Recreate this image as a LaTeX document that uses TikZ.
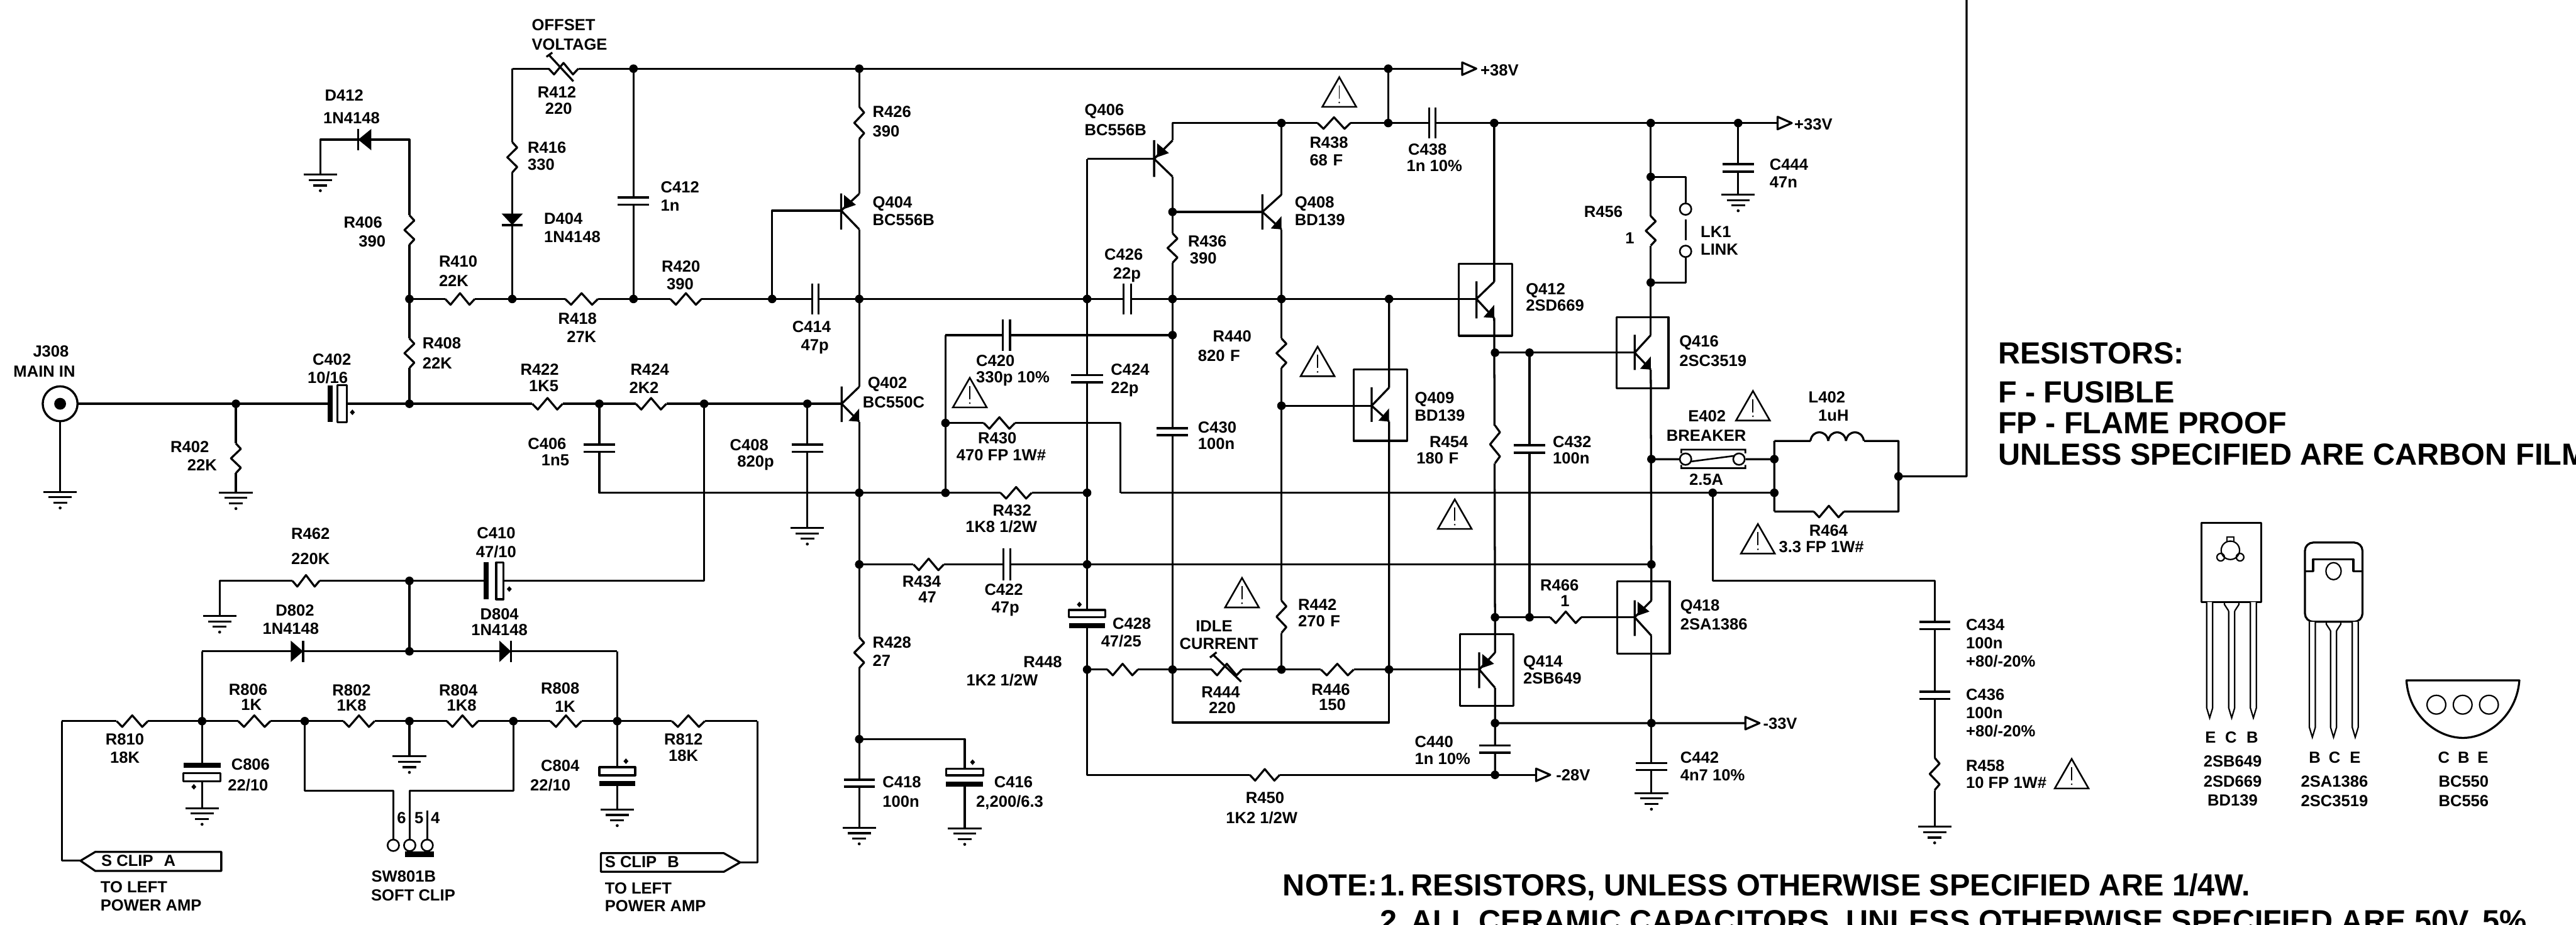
\documentclass[tikz,border=0pt]{standalone}
\usepackage{fontspec}
\newfontfamily\hv{Liberation Sans}
\newcommand\lb{\hv\bfseries\fontsize{9.8}{11}\selectfont}
\newcommand\bg{\hv\bfseries\fontsize{18.6}{20}\selectfont}
\tikzset{
 w/.style={line width=1.25pt,line join=round},
 th/.style={line width=.85pt},
 lab/.style={anchor=base,inner sep=0pt,yshift=-3.4pt,font=\lb},
 labl/.style={anchor=base west,inner sep=0pt,yshift=-3.4pt,font=\lb},
 big/.style={anchor=base west,inner sep=0pt,yshift=-6.6pt,font=\bg},
 pad/.style={circle,draw,line width=1pt,fill=white,inner sep=0pt,minimum size=7pt},
}
\newcount\lc
\newcommand\T[3]{\global\advance\lc by 1 \node[lab] (t\the\lc) at (#1,#2) {#3};}
\newcommand\TL[3]{\global\advance\lc by 1 \node[labl] (t\the\lc) at (#1,#2) {#3};}
\newcommand\TB[3]{\global\advance\lc by 1 \node[big] (t\the\lc) at (#1,#2) {#3};}
\newcommand\Rh[3]{\fill[white] (#1,{#3-1.2}) rectangle (#2,{#3+1.2});
 \draw[w] (#1,#3) -- ++({.18*(#2-#1)},3.5) -- ++({.32*(#2-#1)},-7) -- ++({.32*(#2-#1)},7) -- ++({.18*(#2-#1)},-3.5);}
\newcommand\Rv[3]{\fill[white] ({#1-1.2},#2) rectangle ({#1+1.2},#3);
 \draw[w] (#1,#2) -- ++(3,{.18*(#3-#2)}) -- ++(-6,{.32*(#3-#2)}) -- ++(6,{.32*(#3-#2)}) -- ++(-3,{.18*(#3-#2)});}
\newcommand\Cv[4]{\fill[white] ({#1-1.5},#2) rectangle ({#1+1.5},#3);
 \draw[w,line width=1.4pt] ({#1-#4},#2) -- ({#1+#4},#2) ({#1-#4},#3) -- ({#1+#4},#3);}
\newcommand\Ch[4]{\fill[white] (#1,{#3-1.5}) rectangle (#2,{#3+1.5});
 \draw[w] (#1,{#3-#4}) -- (#1,{#3+#4}) (#2,{#3-#4}) -- (#2,{#3+#4});}
\newcommand\PCh[6]{\fill[white] (#1,{#5-1.5}) rectangle (#4,{#5+1.5});
 \fill (#1,{#5-#6}) rectangle (#2,{#5+#6});
 \draw[w] (#3,{#5-#6}) rectangle (#4,{#5+#6});}
\newcommand\PCv[6]{\fill[white] ({#1-1.5},#2) rectangle ({#1+1.5},#5);
 \fill ({#1-#6},#2) rectangle ({#1+#6},#3);
 \draw[w] ({#1-#6},#4) rectangle ({#1+#6},#5);}
\newcommand\Pl[2]{\fill (#1,{#2-1.7}) -- ({#1+1.5},#2) -- (#1,{#2+1.7}) -- ({#1-1.5},#2) -- cycle;}
\newcommand\Dh[3]{\fill (#1,#3) -- (#2,{#3-6.5}) -- (#2,{#3+6.5}) -- cycle; \draw[w] (#1,{#3-6.5}) -- (#1,{#3+6.5});}
\newcommand\Dv[3]{\fill (#3,#1) -- ({#3-6.5},#2) -- ({#3+6.5},#2) -- cycle; \draw[w] ({#3-6.5},#1) -- ({#3+6.5},#1);}
\newcommand\G[2]{\draw[w,line width=1.2pt] ({#1-10.2},#2) -- ({#1+10.2},#2) ({#1-7},{#2+3.3}) -- ({#1+7},{#2+3.3}) ({#1-4.2},{#2+6.6}) -- ({#1+4.2},{#2+6.6});
 \fill (#1,{#2+9.8}) circle (.9);}
\newcommand\Q[6]{\coordinate (#1g) at (#2,#3); \coordinate (#1t) at (#4,#5); \coordinate (#1b) at (#4,#6);
 \draw[w] (#2,{#5-.2}) -- (#2,{#6+.2}) (#1t) -- (#1g) -- (#1b);}
\newcommand\AN[2]{\fill (#1,#2) -- (#1,{#2-8}) -- ({#1-6.5},{#2-.5}) -- cycle;}
\newcommand\AP[2]{\fill ({#1+1.8},{#2-1}) -- ({#1+1.8},{#2-9.5}) -- ({#1+9},{#2-3.5}) -- cycle;}
\newcommand\Bx[4]{\draw[w] (#1,#3) rectangle (#2,#4);}
\newcommand\W[2]{\draw[th,line width=1pt,line join=miter] (#1,#2) -- ({#1+10.3},{#2+18}) -- ({#1-10.3},{#2+18}) -- cycle;
 \draw[th,line width=.7pt] (#1,{#2+5}) -- (#1,{#2+13}); \fill (#1,{#2+15.4}) circle (.55);}
\newcommand\FL[2]{\draw[w,fill=white] (#1,{#2-3.8}) -- ({#1+8.6},#2) -- (#1,{#2+3.8}) -- cycle;}
\newcommand\Ld[3]{\draw[th,fill=white] ({#1-1.8},#2) -- ({#1-1.8},{#3-6}) -- (#1,#3) -- ({#1+1.8},{#3-6}) -- ({#1+1.8},#2);}
\begin{document}
\begin{tikzpicture}[x=1pt,y=-1pt]
\useasboundingbox (0,0) rectangle (1568,563);
\clip (0,0) rectangle (1568,563);
\fill[white] (0,0) rectangle (1568,563);
\foreach \n/\x/\y in {jk/36.6/245.8,gj/36.6/299.4,a1/143.6/245.8,g402/143.6/299.8,a2/249.2/245.8,a3/364.8/245.8,a4/428.6/245.8,a5/491.4/245.8,g408/491.4/321.4,
 a6/249.2/182,a7/311.8/182,a8/385.6/182,a9/470/182,a10/523/182,b1/661.7/182,b2/713.7/182,b3/780/182,b4/845.5/182,
 d0/249.2/85,d9/195/85,g412/195/106.3,
 t0/311.8/41.8,t1/385.6/41.8,t2/523/41.8,t3/845/41.8,t4/890/41.8,
 u0/713.7/74.9,u1/780/74.9,u2/845/74.9,u3/909.5/74.9,u4/1004.8/74.9,u5/1058/74.9,u6/1082/74.9,g444/1058/118.5,
 p0/364.8/300,p1/523/300,p2/575.5/300,p3/661.7/300,p4/682/300,p5/1042.5/300,p6/1080/300,
 r0/523/343.6,r1/661.7/343.6,r2/1005.2/343.6,
 s0/661.7/407.6,s1/713.7/407.6,s2/780/407.6,s3/845.5/407.6,
 e0/523/450,g418/523/503.9,g416/587.2/504.2,
 c0/428.6/353.6,c1/133.7/353.6,g462/133.7/375,c2/249.2/353.6,
 f0/123/396.5,f1/249.2/396.5,f2/375.7/396.5,
 h0/37.6/439,h1/123/439,h2/185.5/439,h3/249.2/439,h4/312.5/439,h5/375.7/439,h6/461/439,
 g806/123/492,g804/375.7/492.8,g800/249.2/460.4,
 fa/49/524,fa0/37.6/524,fb/450.5/525,fb0/461/525,
 k1/185.5/481.5,k2/239.4/481.5,k3/312.5/481.5,k4/249.4/481.5,k5/260/493.5,
 k6/661.7/96.7,n1/713.7/129,m1/780/247,
 c3/713.7/204,c4/575.5/204,c5/575.5/257.5,c6/682/257.5,
 d1/910/214.7,d2/931/214.7,d3/910/375.8,d4/931/375.8,
 x0/910/440.2,x1/1062.4/440.2,x2/1005.2/440.2,g442/1005.2/482.8,
 v0/661.7/471.7,v1/910/471.7,v2/935/471.7,
 s4/713.7/439.8,s5/845.5/439.8,
 l1/1004.8/107.7,l2/1004.8/172,z0/1005.2/279.5,z1/1080/279.5,
 z2/1080/268.4,z3/1155.6/268.4,z4/1080/311.4,z5/1155.6/311.4,y0/1155.6/290,y1/1197/290,y2/1197/-2,
 w0/1042.5/353.6,w1/1177.6/353.6,g458/1177.6/503.3}
 {\coordinate (\n) at (\x,\y);}
\node[pad] (lka) at (1026,127.3) {};
\node[pad] (lkb) at (1026,153) {};
\node[pad] (brka) at (1026,279.5) {};
\node[pad] (brkb) at (1058.5,279.5) {};
\node[pad] (sw6) at (239.4,514.6) {};
\node[pad] (sw5) at (249.4,514.6) {};
\node[pad] (sw4) at (260,514.6) {};
% transistors
\Q{qa}{512.3}{245.8}{523}{235.5}{256.7}
\Q{qb}{512}{128.2}{523}{118}{139.6}
\Q{qc}{702.5}{96.7}{713.7}{85.5}{107.5}
\Q{qd}{768.4}{129}{780}{118.5}{139.6}
\Q{qe}{834.9}{247}{845.5}{236}{256.6}
\Q{qf}{898.7}{182}{909.5}{171.5}{193.6}
\Q{qg}{995}{214.7}{1004.8}{204}{225}
\Q{qh}{900.4}{407.6}{910}{397.3}{418.7}
\Q{qi}{995}{375.8}{1005.2}{365.6}{387}
\AN{523}{256.7}\AN{780}{139.6}\AN{845.5}{256.6}\AN{909.5}{193.6}\AN{1004.8}{225}
\AP{512}{128.2}\AP{702.5}{96.7}\AP{900.4}{407.6}\AP{995}{375.8}
\Bx{824}{856.4}{225}{268.3}\Bx{888}{920.4}{160.7}{204.4}\Bx{984}{1015.6}{193}{236.5}\Bx{888.7}{921.3}{386}{429.6}\Bx{984.4}{1016.4}{354}{397.8}
% wires
\draw[w] (jk) -- (qag) (jk) -- (gj) (a1) -- (g402) (a2) -- (a6) -- (d0) -- (d9) -- (g412);
\draw[w] (a6) -- (qfg) (t0) -- (a7) (t0) -- (t4) (a8) -- (t1) (a9) |- (qbg) (t2) -- (qbt) (qbb) -- (qat) (qab) -- (r0) -- (e0) -- (g418);
\draw[w] (e0) -| (g416) (a3) -- (p0) -- (p3) (a4) -- (c0) -- (c1) -- (g462) (a5) -- (g408) (c2) -- (f1) (f0) -- (f2) (f0) -- (h1) (f2) -- (h5);
\draw[w] (h1) -- (g806) (h5) -- (g804) (h3) -- (g800) (h0) -- (h6) (h0) -- (fa0) -- (fa) (h6) -- (fb0) -- (fb);
\draw[w] (h2) -- (k1) -- (k2) -- (sw6) (h4) -- (k3) -- (k4) -- (sw5) (k5) -- (sw4);
\draw[w] (k6) -- (qcg) (k6) -- (b1) -- (p3) -- (r1) -- (v0) -- (v2) (qct) -- (u0) -- (u6) (t3) -- (u2);
\draw[w] (qcb) -- (n1) -- (b2) -- (c3) -- (s4) -- (s5) -- (s3) (n1) -- (qdg) (u1) -- (qdt) (qdb) -- (m1) -- (s2) (m1) -- (qeg);
\draw[w] (b4) -- (qet) (qeb) -- (s3) (u3) -- (qft) (qfb) -- (d3) -- (qht) (qhb) -- (v1) (x0) -- (x1);
\draw[w] (d1) -- (qgg) (d2) -- (d4) (d3) -- (qig) (u4) -- (qgt) (l1) -| (lka) (l2) -| (lkb);
\draw[w] (qgb) -- (qit) (z0) -- (brka) (brkb) -- (z1) (z2) -- (z4) (z2) -- (z3) -- (z5) -- (z4) (y0) -- (y1) -- (y2);
\draw[w] (r0) -- (r2) (qib) -- (g442) (p4) -- (p6) (p5) -- (w0) -- (w1) -- (g458) (u5) -- (g444);
\draw[w] (s0) -- (qhg) (c4) -- (c3) (c4) -- (p2) (c5) -- (c6) -- (p4);
% resistors
\Rv{143.6}{270}{288}\Rv{249.2}{131}{149}\Rv{249.2}{206}{224}\Rv{311.8}{86.5}{105}
\Rh{271}{289}{182}\Rh{344}{364}{182}\Rh{408}{427}{182}\Rh{324}{342.5}{245.8}\Rh{387}{405.6}{245.8}
\Rh{334}{352}{41.8}\draw[w] (334,33.3) -- (349,49.5);\draw[w] (334,33.3) ++(2.2,-1.3) -- ++(-3.6,2.6);
\Rh{178}{194.5}{353.6}\Rh{71}{90}{439}\Rh{145}{164.6}{439}\Rh{209}{228}{439}\Rh{272}{291}{439}\Rh{335}{354}{439}\Rh{409}{429}{439}
\Rv{523}{65}{84.6}\Rv{523}{387.9}{406.7}\Rh{556}{574.5}{343.6}\Rh{609}{628}{300}\Rh{598.8}{617.8}{257.5}
\Rv{713.7}{142}{160}\Rh{802}{822}{74.9}\Rv{780}{206}{224}\Rv{780}{365.6}{385.3}\Rv{910}{259}{282}\Rv{1004.8}{131.5}{149.5}
\Rh{674}{692.6}{407.6}\Rh{737.5}{756}{407.6}\draw[w] (738.5,398.7) -- (755.5,415);\draw[w] (738.5,398.7) ++(2,-1.6) -- ++(-4,3.2);
\Rh{804}{824}{407.6}\Rh{760.7}{779}{471.7}\Rh{943.6}{962.5}{375.8}\Rh{1104}{1122.4}{311.4}\Rv{1177.6}{461.3}{481}
% capacitors
\PCh{199.5}{202.5}{205.5}{211}{245.8}{11.2}\Pl{214.5}{251}
\PCh{294.5}{297.5}{302}{306.5}{353.6}{11.2}\Pl{310}{358.6}
\Cv{385.6}{120.3}{124.6}{9.6}\Cv{364.8}{270.7}{275}{9.6}\Cv{491.4}{270.7}{275}{9.6}
\Ch{494.4}{498.2}{182}{9.5}\Ch{684}{688.6}{182}{9.5}\Ch{610.4}{614.8}{204}{9.7}\Ch{610.8}{615}{343.6}{9.7}\Ch{869.8}{873.7}{74.9}{9.5}
\Cv{661.7}{228.4}{232.7}{9.6}\Cv{713.7}{260.6}{265}{9.6}\Cv{931}{271}{275.5}{9.6}\Cv{1058}{100}{104.4}{9.5}
\Cv{910}{453.8}{458.3}{9.6}\Cv{1005.2}{464.5}{468.8}{9.5}\Cv{523}{474.7}{478.8}{9.3}\Cv{1177.6}{378.5}{383}{9.4}\Cv{1177.6}{421}{425.5}{9.4}
\PCv{123}{464.3}{467.3}{470.6}{475.6}{11.3}\Pl{118}{479}
\fill[white] (374.2,467) rectangle (377.2,478.5);\draw[w] (364.8,467) rectangle (386.6,472);\fill (364.8,475.5) rectangle (386.6,478.5);\Pl{381}{463.4}
\fill[white] (585.7,468) rectangle (588.7,479);\draw[w] (575.9,468) rectangle (598.5,472);\fill (575.9,475.9) rectangle (598.5,478.9);\Pl{592}{464}
\fill[white] (660.2,371.3) rectangle (663.2,382.5);\draw[w] (650.7,371.3) rectangle (672.7,375.8);\fill (650.7,379.5) rectangle (672.7,382.5);\Pl{657}{368}
% diodes
\Dh{218}{226}{85}\Dv{137}{130}{311.8}\Dh{184.5}{177}{396.5}\Dh{311}{304}{396.5}
% grounds
\G{36.6}{299.4}\G{143.6}{299.8}\G{195}{106.3}\G{491.4}{321.4}\G{133.7}{375}\G{123}{492}\G{375.7}{492.8}\G{249.2}{460.4}
\G{523}{503.9}\G{587.2}{504.2}\G{1005.2}{482.8}\G{1058}{118.5}\G{1177.6}{503.3}
% jack
\draw[w,fill=white,line width=1.3pt] (jk) circle (10.6);\fill (jk) circle (3.6);
% flags and arrows
\draw[w,fill=white] (fa) -- (58,518.6) -- (134.7,518.6) -- (134.7,530.2) -- (58,530.2) -- cycle;
\draw[w,fill=white] (fb) -- (440.6,519.4) -- (365.8,519.4) -- (365.8,530.7) -- (440.6,530.7) -- cycle;
\FL{890}{41.8}\FL{1082}{74.9}\FL{1062.4}{440.2}\FL{935}{471.7}
\draw[w] (1026,133.6) -- (1026,146.2);
\fill (246.7,518.5) rectangle (264.3,521.8);
% breaker and coil
\draw[th,line width=1pt] (1029,281) -- (1055.5,277.5) (1023.4,276) -- (1023.4,273.7) -- (1062.4,273.7) -- (1062.4,276) (1023.4,283) -- (1023.4,285) -- (1062.4,285) -- (1062.4,283);
\fill[white] (1102,267) rectangle (1134.5,270);
\foreach \i in {0,1,2} \draw[w] ({1102+10.83*\i},268.4) .. controls +(1,-7) and +(-1,-7) .. +(10.83,0);
% warnings
\W{815.2}{47}\W{802}{211}\W{590.3}{230}\W{885.5}{304}\W{756}{351.8}\W{1067}{238}\W{1070}{319}\W{1261}{462}
% dots
\foreach \n in {a1,a2,a3,a4,a5,a6,a7,a8,a9,a10,b1,b2,b3,b4,t1,t2,t3,u1,u2,u3,u4,u5,p1,p2,p3,p5,p6,r0,r1,r2,s0,s1,s2,s3,e0,c2,f1,h1,h2,h3,h4,h5,n1,m1,c3,c5,d1,d2,d3,d4,x0,x2,v1,l1,l2,z0,z1,y0}
 {\fill (\n) circle (2.6);}
% packages
\draw[w] (1340,318.2) rectangle (1376.3,366.5);
\draw[th] (1357.6,335) circle (5.6);\draw[th] (1355.6,327) rectangle (1359.6,329.6);
\draw[th] (1351.7,339.2) circle (2.3);\draw[th] (1363.5,339.2) circle (2.3);
\Ld{1345}{366.5}{437}\Ld{1371.6}{366.5}{437}\Ld{1358.4}{372}{437}\draw[th] (1356.6,372) -- (1354,368) -- (1354,366.5) (1360.2,372) -- (1362.8,368) -- (1362.8,366.5);
\draw[w,rounded corners=5pt] (1403,378.5) -- (1403,330.3) -- (1438,330.3) -- (1438,378.5) -- cycle;
\draw[w] (1403,347.7) -- (1408,347.7) -- (1408,340.5) -- (1432.5,340.5) -- (1432.5,347.7) -- (1438,347.7);
\draw[th] (1420.4,347.7) ellipse (4.6 and 5.2);
\Ld{1407.5}{378.5}{448.8}\Ld{1433.6}{378.5}{448.8}\Ld{1420.4}{384}{448.8}\draw[th] (1418.6,384) -- (1416,380) -- (1416,378.5) (1422.2,384) -- (1424.8,380) -- (1424.8,378.5);
\draw[w] (1464.8,414.2) -- (1533.5,414.2) .. controls (1532,435) and (1515,449.2) .. (1499.2,449.2) .. controls (1483,449.2) and (1466,435) .. cycle;
\foreach \x in {1483,1499,1515} \draw[th] (\x,429) circle (5.7);
\draw[th] (260,493.5) -- (260,511);
% labels
\TL{323.5}{15}{OFFSET}\TL{323.5}{27}{VOLTAGE}\T{339}{56}{R412}\T{340}{66}{220}\TL{321}{90}{R416}\TL{321}{100}{330}
\TL{331}{133}{D404}\TL{331}{144}{1N4148}\TL{402}{114}{C412}\TL{402}{125}{1n}\T{209.5}{58}{D412}\T{214}{72}{1N4148}
\T{221}{135.5}{R406}\T{226.5}{147}{390}\TL{267}{159}{R410}\TL{267}{171}{22K}\T{351.5}{194}{R418}\T{354}{205}{27K}
\T{414.5}{162}{R420}\T{414}{173}{390}\T{494}{199}{C414}\T{496}{210}{47p}\TL{257}{209}{R408}\TL{257}{221}{22K}
\T{31}{214}{J308}\T{27}{226}{MAIN IN}\T{202}{219}{C402}\T{199.5}{230}{10/16}\T{115.5}{272}{R402}\T{123}{283}{22K}
\T{328.5}{225}{R422}\T{331}{235}{1K5}\T{395.5}{225}{R424}\T{392}{236}{2K2}\T{333}{270}{C406}\T{338}{280}{1n5}\T{456}{271}{C408}\T{460}{281}{820p}
\T{189}{325}{R462}\T{189}{340}{220K}\T{302}{324.5}{C410}\T{302}{336}{47/10}\T{179.5}{371.5}{D802}\T{177}{382.5}{1N4148}\T{304}{374}{D804}\T{304}{383.5}{1N4148}
\T{151}{419.6}{R806}\T{153}{429}{1K}\T{214}{420}{R802}\T{214}{429.5}{1K8}\T{279}{420}{R804}\T{281}{429.5}{1K8}\T{341}{419}{R808}\T{344}{430}{1K}
\T{76}{450}{R810}\T{76}{461}{18K}\T{416}{450}{R812}\T{416}{460}{18K}\T{152.5}{465.5}{C806}\T{151}{478}{22/10}\T{341}{466}{C804}\T{335}{478}{22/10}
\TL{61.5}{524}{S CLIP\,\,\,\,A}\TL{368}{524.5}{S CLIP\,\,\,\,B}\T{244.4}{498}{6}\T{255}{498}{5}\T{265}{498}{4}
\T{245.7}{533.3}{SW801B}\T{251.5}{544.8}{SOFT CLIP}\TL{61}{540}{TO LEFT}\TL{61}{551}{POWER AMP}\TL{368}{540.8}{TO LEFT}\TL{368}{551.5}{POWER AMP}
\TL{531}{68}{R426}\TL{531}{80}{390}\TL{531}{123}{Q404}\TL{531}{134}{BC556B}\TL{528}{233}{Q402}\TL{525}{245}{BC550C}\TL{531}{391}{R428}\TL{531}{402}{27}
\TL{537}{476}{C418}\TL{537}{488}{100n}\TL{605}{476}{C416}\TL{594}{488}{2,200/6.3}\T{561}{354}{R434}\T{564.5}{363.5}{47}\T{611}{359}{C422}\T{612}{369.5}{47p}
\T{616}{310.5}{R432}\T{609.5}{320.5}{1K8 1/2W}\TL{797}{86.6}{R438}\TL{797}{97.6}{68\,\,F}\TL{857}{91}{C438}\TL{856}{101}{1n 10\%}
\TL{660}{67}{Q406}\TL{660}{79}{BC556B}\TL{788}{123}{Q408}\TL{788}{134}{BD139}\TL{723}{147}{R436}\TL{724}{157}{390}\T{684}{155}{C426}\T{686}{166.5}{22p}
\T{750}{204.7}{R440}\TL{729}{216.6}{820\,\,F}\TL{594}{219.6}{C420}\TL{594}{229.6}{330p 10\%}\TL{676}{225}{C424}\TL{676}{236}{22p}\TL{861}{242}{Q409}\TL{861}{253}{BD139}
\TL{870}{269}{R454}\TL{862}{279}{180\,\,F}\TL{729}{260}{C430}\TL{729}{270}{100n}\TL{945}{269}{C432}\TL{945}{279}{100n}\T{607}{266.5}{R430}\TL{582}{277}{470 FP 1W\#}
\TL{928.6}{176}{Q412}\TL{928.6}{186}{2SD669}\T{976}{128.8}{R456}\T{992}{145}{1}\TL{1035}{141}{LK1}\TL{1035}{151.7}{LINK}\TL{1022}{207.6}{Q416}\TL{1022}{219.6}{2SC3519}
\TL{1022.6}{368.5}{Q418}\TL{1022.6}{380}{2SA1386}\T{949.3}{356.3}{R466}\T{952.6}{366}{1}\TL{927}{402.5}{Q414}\TL{927}{413}{2SB649}\TL{861}{451.5}{C440}\TL{861}{462}{1n 10\%}
\T{634.7}{402.8}{R448}\TL{588}{414}{1K2 1/2W}\T{743}{421.5}{R444}\T{744}{431}{220}\T{810}{419.6}{R446}\T{811}{429}{150}\TL{790}{368}{R442}\TL{790}{378}{270\,\,F}
\T{739}{381}{IDLE}\T{742}{392}{CURRENT}\TL{677}{379.6}{C428}\TL{670}{390.5}{47/25}\T{770}{485.5}{R450}\T{768}{498}{1K2 1/2W}\T{1039}{253.4}{E402}\T{1038.6}{265}{BREAKER}\T{1038.6}{292}{2.5A}
\T{1112}{241.7}{L402}\T{1116}{252.7}{1uH}\T{1113}{323}{R464}\TL{1082.6}{333}{3.3 FP 1W\#}\TL{1022.6}{461}{C442}\TL{1022.6}{472}{4n7 10\%}
\TL{1196.5}{380.5}{C434}\TL{1196.5}{391.5}{100n}\TL{1196.5}{402.5}{+80/-20\%}\TL{1196.5}{423}{C436}\TL{1196.5}{434}{100n}\TL{1196.5}{445}{+80/-20\%}\TL{1196.5}{466}{R458}\TL{1196.5}{476.6}{10 FP 1W\#}
\TL{1077}{100}{C444}\TL{1077}{111}{47n}\TL{901}{42.7}{+38V}\TL{1092}{75.5}{+33V}\TL{1073}{440.5}{-33V}\TL{947}{471.7}{-28V}
\T{1345.5}{448.8}{E}\T{1358}{448.8}{C}\T{1371}{448.8}{B}\T{1359}{463.4}{2SB649}\T{1359}{475.6}{2SD669}\T{1359}{487.2}{BD139}
\T{1409}{461}{B}\T{1421}{461}{C}\T{1433.6}{461}{E}\T{1421}{475.6}{2SA1386}\T{1421}{487.6}{2SC3519}
\T{1487.5}{461.3}{C}\T{1499.6}{461.3}{B}\T{1511.3}{461.3}{E}\T{1499.6}{475.6}{BC550}\T{1499.6}{487.6}{BC556}
\TB{1216}{215}{RESISTORS:}\TB{1216}{238.6}{F - FUSIBLE}\TB{1216}{257.5}{FP - FLAME PROOF}\TB{1216}{276.5}{UNLESS SPECIFIED ARE CARBON FILM}
\TB{780.7}{538.6}{NOTE:}\TB{840}{538.6}{1.\kern-2pt\ RESISTORS, UNLESS OTHERWISE SPECIFIED ARE 1/4W.}\TB{840}{560.6}{2.\kern-2pt\ ALL CERAMIC CAPACITORS, UNLESS OTHERWISE SPECIFIED ARE 50V, 5\%}
\end{tikzpicture}
\end{document}
